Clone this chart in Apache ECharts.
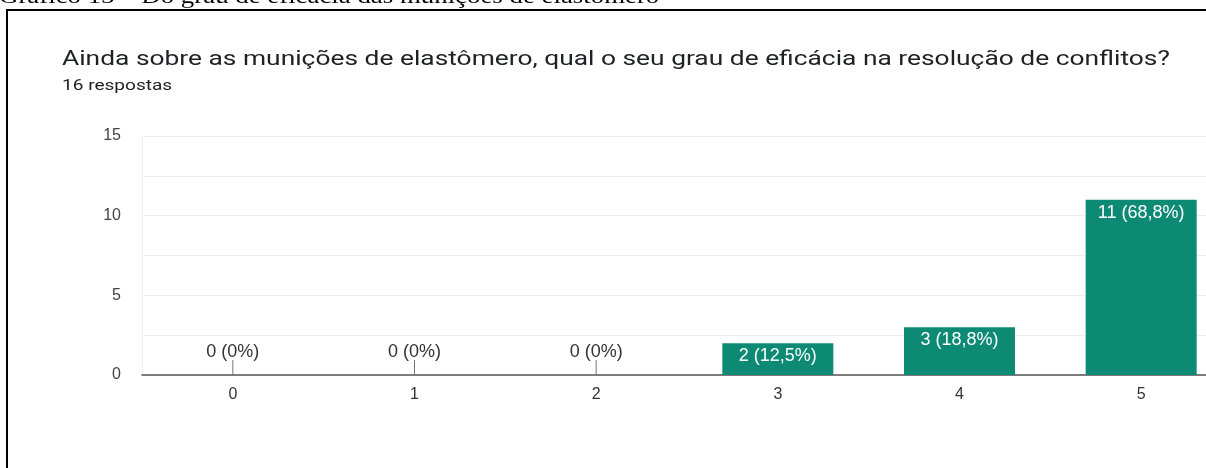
<!DOCTYPE html>
<html>
<head>
<meta charset="utf-8">
<script src="https://cdn.jsdelivr.net/npm/echarts@6/dist/echarts.min.js"></script>
<style>
    html, body { margin: 0; padding: 0; background: #fff; }
    #chart { width: 1206px; height: 468px; }
</style>
</head>
<body>
<div id="chart"></div>
<script>
// dados do gráfico
const categorias = ['0', '1', '2', '3', '4', '5'];
const respostas = [0, 0, 0, 2, 3, 11];
const rotulos = ['0 (0%)', '0 (0%)', '0 (0%)', '2 (12,5%)', '3 (18,8%)', '11 (68,8%)'];
const tituloGrafico = 'Ainda sobre as munições de elastômero, qual o seu grau de eficácia na resolução de conflitos?';
const subtitulo = '16 respostas';
const legenda = 'Gráfico 15 – Do grau de eficácia das munições de elastômero';

const chart = echarts.init(document.getElementById('chart'));

const option = {
    animation: false,
    textStyle: { fontFamily: 'Arial, "Liberation Sans", sans-serif' },
    graphic: [
        {
            // legenda da figura, cortada no topo
            type: 'text',
            x: -1,
            y: -3,
            scaleX: 1.22,
            style: { text: legenda, font: '22px "Liberation Serif", serif', fill: '#000', verticalAlign: 'middle' }
        },
        { type: 'rect', shape: { x: 6, y: 9, width: 1200, height: 2 }, style: { fill: '#000' } },
        { type: 'rect', shape: { x: 6, y: 9, width: 2, height: 459 }, style: { fill: '#000' } },
        {
            type: 'text',
            x: 62,
            y: 60,
            scaleX: 1.255,
            style: { text: tituloGrafico, font: '21px Roboto', fill: '#202124', verticalAlign: 'middle' }
        },
        {
            type: 'text',
            x: 62,
            y: 86,
            scaleX: 1.27,
            style: { text: subtitulo, font: '15px Roboto', fill: '#202124', verticalAlign: 'middle' }
        }
    ],
    grid: {
        left: 142,
        top: 136,
        width: 1090,
        height: 239,
        containLabel: false,
        outerBoundsMode: 'none'
    },
    xAxis: {
        type: 'category',
        data: categorias,
        axisLine: { lineStyle: { color: '#555', width: 1.5 } },
        axisTick: { show: false },
        axisLabel: { color: '#333', fontSize: 16, margin: 12 }
    },
    yAxis: {
        type: 'value',
        min: 0,
        max: 15,
        interval: 2.5,
        axisLine: { show: true, lineStyle: { color: '#eeeeee' } },
        axisLabel: {
            color: '#444',
            fontSize: 16,
            margin: 21,
            formatter: function (v) { return v % 5 === 0 ? String(v) : ''; }
        },
        splitLine: { lineStyle: { color: '#eeeeee' } }
    },
    series: [
        {
            type: 'bar',
            data: respostas,
            barWidth: 111,
            itemStyle: { color: '#0c8a74' },
            label: {
                show: true,
                position: 'insideTop',
                distance: 4,
                color: '#fff',
                fontSize: 18,
                formatter: function (p) { return p.value > 0 ? rotulos[p.dataIndex] : ''; }
            }
        },
        {
            // marcadores das respostas sem votos
            type: 'custom',
            data: respostas.map(function (v, i) { return [i, v]; }),
            renderItem: function (params, api) {
                if (api.value(1) > 0) return null;
                const p = api.coord([api.value(0), 0]);
                return {
                    type: 'group',
                    children: [
                        {
                            type: 'line',
                            shape: { x1: p[0], y1: p[1], x2: p[0], y2: p[1] - 15 },
                            style: { stroke: '#777', lineWidth: 1 }
                        },
                        {
                            type: 'text',
                            style: {
                                x: p[0],
                                y: p[1] - 23,
                                text: rotulos[params.dataIndex],
                                align: 'center',
                                verticalAlign: 'middle',
                                fill: '#333',
                                font: '18px Arial, "Liberation Sans"'
                            }
                        }
                    ]
                };
            }
        }
    ]
};

chart.setOption(option);
</script>
</body>
</html>
